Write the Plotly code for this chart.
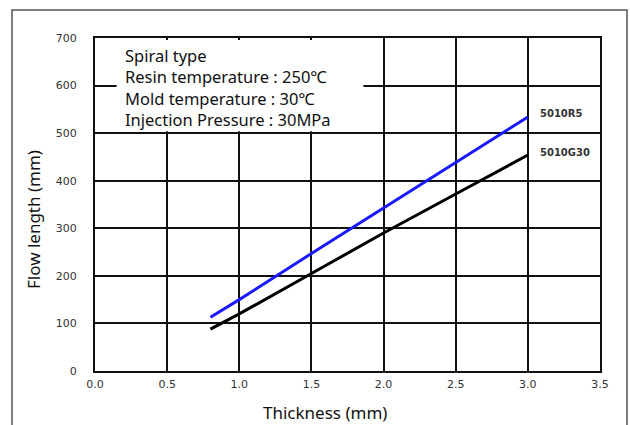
import plotly.graph_objects as go

# Spiral flow length vs. wall thickness for two grades
thickness = [0.8, 1.0, 1.5, 2.0, 2.5, 3.0]
flow_5010r5 = [113, 150, 247, 343, 438, 534]
flow_5010g30 = [88, 120, 205, 290, 372, 454]
series_names = ["5010R5", "5010G30"]

x_ticks = [0.0, 0.5, 1.0, 1.5, 2.0, 2.5, 3.0, 3.5]
y_ticks = [0, 100, 200, 300, 400, 500, 600, 700]

conditions = [
    "Spiral type",
    "Resin temperature : 250℃",
    "Mold temperature : 30℃",
    "Injection Pressure : 30MPa",
]

TEXT_FONT = "Noto Sans"
TICK_FONT = dict(family="DejaVu Sans", size=11, color="#333")

# plot-area geometry in pixels, used to place paper-referenced items
L, R, T, B = 95, 600, 38, 371


def px(x):
    return (x - L) / (R - L)


def py(y):
    return (B - y) / (B - T)


fig = go.Figure()
fig.add_trace(go.Scatter(x=thickness, y=flow_5010r5, mode="lines",
                         line=dict(color="#1a1aff", width=3), name=series_names[0]))
fig.add_trace(go.Scatter(x=thickness, y=flow_5010g30, mode="lines",
                         line=dict(color="#000000", width=3), name=series_names[1]))

# series labels at the line ends
fig.add_annotation(x=3.07, y=flow_5010r5[-1] + 8, text="<b>" + series_names[0] + "</b>",
                   showarrow=False, xanchor="left", yanchor="middle",
                   font=dict(family="DejaVu Sans", size=10, color="#333"))
fig.add_annotation(x=3.07, y=flow_5010g30[-1] + 6, text="<b>" + series_names[1] + "</b>",
                   showarrow=False, xanchor="left", yanchor="middle",
                   font=dict(family="DejaVu Sans", size=10, color="#333"))

# conditions box over the upper-left grid
fig.add_shape(type="rect", xref="x", yref="y", x0=0.15, x1=1.86, y0=504, y1=696,
              fillcolor="white", line=dict(width=0), layer="between")
fig.add_annotation(xref="paper", yref="paper", x=px(123), y=py(87),
                   text="<br>".join(conditions), showarrow=False, align="left",
                   xanchor="left", yanchor="middle",
                   font=dict(family=TEXT_FONT, size=16.5, color="#111"))

# axis titles
fig.add_annotation(xref="paper", yref="paper", x=px(325), y=py(412),
                   text="Thickness (mm)", showarrow=False, xanchor="center", yanchor="middle",
                   font=dict(family=TEXT_FONT, size=17, color="#111"))
fig.add_annotation(xref="paper", yref="paper", x=px(33), y=py(220),
                   text="Flow length (mm)", showarrow=False, textangle=-90,
                   xanchor="center", yanchor="middle",
                   font=dict(family=TEXT_FONT, size=17, color="#111"))

# outer frame
fig.add_shape(type="rect", xref="paper", yref="paper",
              x0=px(12), x1=px(627), y0=py(440), y1=py(10),
              line=dict(color="#555", width=1.5), fillcolor="rgba(0,0,0,0)")

fig.update_xaxes(range=[0, 3.5], tickvals=x_ticks, ticktext=[f"{v:.1f}" for v in x_ticks],
                 showgrid=True, gridcolor="#111", gridwidth=2,
                 showline=True, linecolor="#111", linewidth=2, mirror=True,
                 zeroline=False, ticks="", tickfont=TICK_FONT, ticklabelstandoff=2)
fig.update_yaxes(range=[0, 700], tickvals=y_ticks,
                 showgrid=True, gridcolor="#111", gridwidth=2,
                 showline=True, linecolor="#111", linewidth=2, mirror=True,
                 zeroline=False, ticks="", tickfont=TICK_FONT, ticklabelstandoff=14)

fig.update_layout(width=630, height=425, showlegend=False,
                  margin=dict(l=L, r=630 - R, t=T, b=425 - B),
                  paper_bgcolor="white", plot_bgcolor="white")

fig.write_html("out.html")
